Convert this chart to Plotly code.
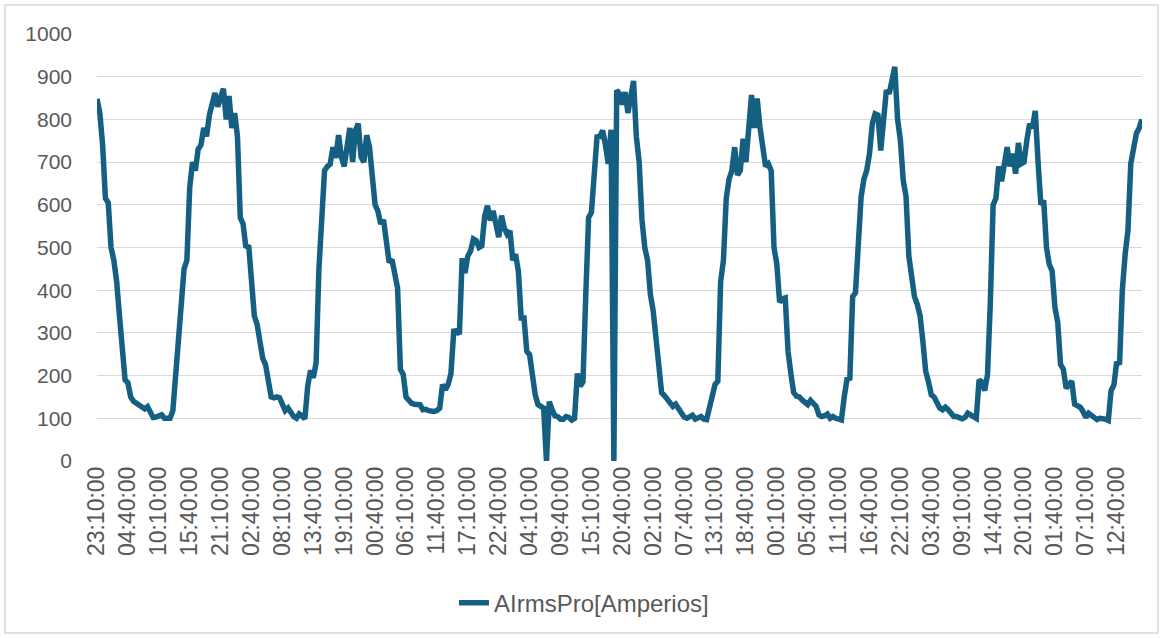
import pandas as pd
import plotly.graph_objects as go

# AIrmsPro readings, 30-minute steps starting 23:10 (one row = 5h30 = one axis label)
start_time = "2024-01-01 23:10:00"
step = "30min"
series_name = "AIrmsPro[Amperios]"
amperios = [
    848, 815, 740, 615, 605, 500, 470, 420, 340, 250, 190,
    183, 150, 140, 135, 130, 126, 122, 127, 112, 102, 103,
    104, 108, 100, 99, 100, 118, 200, 250, 370, 450, 470,
    640, 700, 680, 730, 740, 780, 760, 810, 840, 862, 830,
    855, 872, 800, 855, 780, 815, 760, 570, 555, 500, 505,
    410, 340, 320, 285, 240, 226, 190, 150, 148, 150, 148,
    135, 118, 124, 114, 104, 100, 110, 105, 99, 175, 212,
    195, 230, 450, 548, 680, 690, 695, 735, 710, 763, 712,
    690, 745, 780, 700, 775, 790, 712, 700, 763, 735, 665,
    600, 585, 555, 565, 515, 465, 472, 430, 405, 215, 203,
    150, 140, 135, 133, 131, 132, 120, 121, 118, 116, 116,
    118, 124, 179, 167, 179, 205, 304, 305, 297, 475, 440,
    480, 492, 520, 516, 500, 504, 573, 598, 563, 586, 560,
    524, 575, 545, 531, 539, 470, 484, 445, 335, 335, 257,
    249, 200, 155, 132, 128, 124, 0, 139, 120, 106, 104,
    98, 98, 104, 102, 96, 100, 205, 175, 185, 390, 570,
    582, 690, 759, 760, 774, 740, 696, 776, 0, 868, 860,
    835, 864, 815, 850, 890, 760, 700, 565, 500, 470, 390,
    351, 290, 250, 160, 153, 145, 139, 128, 133, 122, 110,
    103, 100, 105, 107, 98, 100, 104, 98, 97, 124, 152,
    179, 187, 420, 470, 615, 660, 680, 735, 670, 680, 755,
    700, 800, 857, 780, 849, 782, 743, 690, 696, 680, 500,
    461, 372, 380, 382, 257, 205, 160, 152, 150, 143, 138,
    132, 142, 135, 128, 108, 104, 106, 110, 100, 104, 100,
    98, 96, 150, 192, 194, 385, 394, 520, 618, 660, 680,
    720, 790, 813, 810, 727, 790, 868, 860, 900, 923, 800,
    751, 657, 620, 480, 420, 385, 367, 340, 280, 210, 185,
    155, 150, 133, 124, 120, 126, 120, 112, 104, 104, 102,
    99, 102, 112, 108, 102, 100, 190, 185, 165, 202, 370,
    600, 615, 690, 655, 700, 735, 690, 720, 673, 745, 696,
    700, 751, 790, 780, 820, 700, 600, 610, 500, 460, 445,
    360, 325, 226, 215, 170, 179, 187, 133, 128, 126, 116,
    102, 112, 108, 103, 97, 100, 100, 98, 95, 165, 178,
    232, 226, 400, 484, 540, 696, 740, 767, 780, 800,
]
y_ticks = list(range(0, 1001, 100))
label_every_ms = 5.5 * 3600 * 1000   # a label every 5h30

times = pd.date_range(start_time, periods=len(amperios), freq=step)

LINE = "#156082"
GRID = "#D9D9D9"
TXT = "#595959"
FONT = "Liberation Sans, Arial, sans-serif"

fig = go.Figure()
fig.add_trace(go.Scatter(
    x=times, y=amperios, mode="lines", name=series_name,
    line=dict(color=LINE, width=5.5, shape="linear"),
))

fig.update_layout(
    width=1164, height=638,
    margin=dict(l=97, r=22, t=34, b=177),
    paper_bgcolor="white", plot_bgcolor="white",
    font=dict(family=FONT, size=21, color=TXT),
    showlegend=True,
    legend=dict(orientation="h", x=0.466, xanchor="center", y=-0.333, yanchor="middle",
                font=dict(size=24, color=TXT)),
    # thin chart-area border like the Excel frame
    shapes=[dict(type="rect", xref="paper", yref="paper", x0=-0.088, x1=1.0153,
                 y0=-0.403, y1=1.068, line=dict(color=GRID, width=1.5), layer="below")],
)
fig.update_xaxes(
    type="date", range=[times[0], times[-1]],
    tick0=times[0], dtick=label_every_ms, tickformat="%H:%M:%S",
    tickangle=-90, showgrid=False, zeroline=False, showline=False, ticks="",
    tickfont=dict(size=23, color=TXT),
)
fig.update_yaxes(
    range=[0, 1000], tickvals=y_ticks, showgrid=True, gridcolor=GRID, gridwidth=1.3,
    zeroline=False, showline=False, ticks="", ticklabelstandoff=24,
    tickfont=dict(size=21, color=TXT),
)

# drop the browser's default body margin so the figure sits at (0, 0)
fig.write_html("out.html", config={"displayModeBar": False},
               post_script="document.body.style.margin='0px';")
